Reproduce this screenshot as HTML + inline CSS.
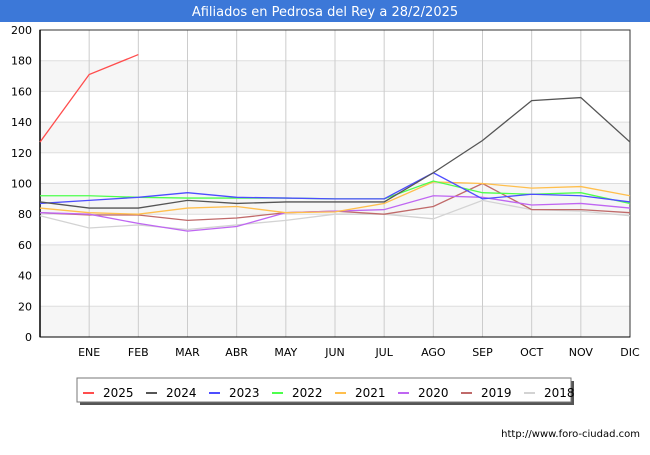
<!DOCTYPE html>
<html><head><meta charset="utf-8"><style>
body{margin:0;background:#fff;font-family:"Liberation Sans","DejaVu Sans",sans-serif}
</style></head><body>
<svg width="650" height="450" xmlns="http://www.w3.org/2000/svg" font-family="DejaVu Sans, Liberation Sans, sans-serif">
<rect x="0" y="0" width="650" height="22" fill="#3c78d8"/>
<text x="325" y="16" text-anchor="middle" fill="#fff" font-size="13">Afiliados en Pedrosa del Rey a 28/2/2025</text>
<g id="plot"></g>
<g id="legend"></g>
<text x="640" y="437" text-anchor="end" font-size="10" fill="#000">http://www.foro-ciudad.com</text>
</svg>
<script>
const months=["","ENE","FEB","MAR","ABR","MAY","JUN","JUL","AGO","SEP","OCT","NOV","DIC"];
const yTicks=[0,20,40,60,80,100,120,140,160,180,200];
const seriesNames=["2025","2024","2023","2022","2021","2020","2019","2018"];
const seriesColors=["#ff4d4d","#555555","#4d4dff","#4dff4d","#ffbf4d","#bf66f2","#c06a6a","#d3d3d3"];
const s2025=[127,171,184];
const s2024=[88,84,84,89,87,88,88,88,107,128,154,156,127];
const s2023=[87,89,91,94,91,90.5,90,90,107,90,93,92,88];
const s2022=[92,92,91,90.5,90.5,90.5,90,90,101.6,94,93,94,87];
const s2021=[84,81,80,84,85,81,81.5,87,101,100,97,98,92];
const s2020=[81,80,74,69,72,81,82,83,92,91,86,87,84];
const s2019=[81,79.5,79.5,76,77.5,81,82,80,85,100,83,83,81];
const s2018=[79,71,73,70,73,76,80,80,77,89,83,82,79];
const allSeries=[s2025,s2024,s2023,s2022,s2021,s2020,s2019,s2018];
const NS="http://www.w3.org/2000/svg";
const X0=40,X1=630,Y0=337,Y1=30;
const xs=i=>X0+i*(X1-X0)/12;
const ys=v=>Y0-(v/200)*(Y0-Y1);
function mk(tag,attrs,parent){const e=document.createElementNS(NS,tag);for(const k in attrs)e.setAttribute(k,attrs[k]);parent.appendChild(e);return e;}
const plot=document.getElementById('plot');
mk('rect',{x:X0,y:Y1,width:X1-X0,height:Y0-Y1,fill:'#fff'},plot);
for(let i=0;i<yTicks.length-1;i++){
  if(i%2===0){const r=mk('rect',{x:X0,y:ys(yTicks[i+1]),width:X1-X0,height:ys(yTicks[i])-ys(yTicks[i+1]),fill:'#f6f6f6'},plot);
  
  }
}
yTicks.forEach(t=>{
  const l=mk('line',{x1:X0,x2:X1,y1:ys(t),y2:ys(t),stroke:'#dddddd','stroke-width':1},plot);
  
  
  const tx=mk('text',{x:X0-8,y:ys(t)+4,'text-anchor':'end','font-size':11,fill:'#000'},plot);tx.textContent=t;
  
  
});
months.forEach((m,i)=>{
  if(i>0){const l=mk('line',{x1:xs(i),x2:xs(i),y1:Y1,y2:Y0,stroke:'#cccccc','stroke-width':1},plot);
  
  }
  const tx=mk('text',{x:xs(i),y:356,'text-anchor':'middle','font-size':11,fill:'#000'},plot);tx.textContent=m;
  
  
});
mk('rect',{x:X0,y:Y1,width:X1-X0,height:Y0-Y1,fill:'none',stroke:'#333'},plot);
mk('line',{x1:X0,x2:X0,y1:Y1,y2:Y0,stroke:'#000','stroke-width':1.5},plot);
mk('line',{x1:X0,x2:X1,y1:Y0,y2:Y0,stroke:'#000','stroke-width':1},plot);
for(let k=allSeries.length-1;k>=0;k--){
  const pts=allSeries[k].map((v,i)=>xs(i)+','+ys(v)).join(' ');
  const p=mk('polyline',{points:pts,fill:'none',stroke:seriesColors[k],'stroke-width':1.3},plot);
  
  
}
const lg=document.getElementById('legend');
mk('rect',{x:80,y:381,width:494,height:24,fill:'#555'},lg);
mk('rect',{x:77,y:378,width:494,height:24,fill:'#fff',stroke:'#777'},lg);
seriesNames.forEach((n,i)=>{
  const x=83+i*63;
  const l=mk('line',{x1:x,x2:x+11,y1:393,y2:393,stroke:seriesColors[i],'stroke-width':2},lg);
  
  
  const t=mk('text',{x:x+20,y:397,'font-size':12,fill:'#000'},lg);t.textContent=n;
  
  
});
</script>
</body></html>
